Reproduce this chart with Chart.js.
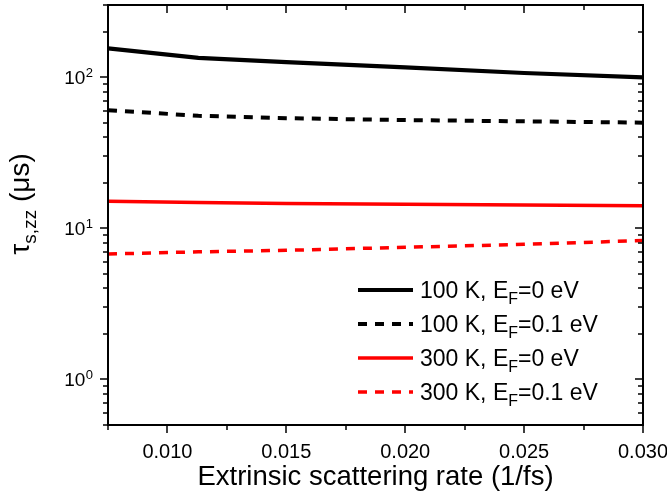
<!DOCTYPE html>
<html>
<head>
<meta charset="utf-8">
<script src="https://cdn.jsdelivr.net/npm/chart.js@4"></script>
<style>
  body { margin: 0; background: #fff; }
  #wrap { width: 667px; height: 503px; }
</style>
</head>
<body>
<div id="wrap"><canvas id="tauChart" width="667" height="503"></canvas></div>
<script>
const FONT = "'Liberation Sans', Arial, sans-serif"

// extrinsic scattering rate (1/fs)
const rates = [0.0075, 0.0113, 0.015, 0.02, 0.025, 0.03]

// tau_s,zz (us)
const t100K_EF0 = [155, 134, 125.5, 116, 106.5, 99.5]
const t100K_EF01 = [60.5, 55.5, 53.5, 52, 51, 50]
const t300K_EF0 = [15.1, 14.8, 14.6, 14.4, 14.25, 14.1]
const t300K_EF01 = [6.76, 6.99, 7.15, 7.49, 7.83, 8.3]

// legend text: main part, subscript, rest
const legendMain = ["100 K, E", "100 K, E", "300 K, E", "300 K, E"]
const legendSub = ["F", "F", "F", "F"]
const legendTail = ["=0 eV", "=0.1 eV", "=0 eV", "=0.1 eV"]

const xTicks = [0.0075, 0.01, 0.0125, 0.015, 0.0175, 0.02, 0.0225, 0.025, 0.0275, 0.03]
const yTicks = [0.5, 0.6, 0.7, 0.8, 0.9, 1, 2, 3, 4, 5, 6, 7, 8, 9, 10, 20, 30, 40, 50, 60, 70, 80, 90, 100, 200, 300]

const seriesValues = [t100K_EF0, t100K_EF01, t300K_EF0, t300K_EF01]
const seriesColors = ["#000000", "#000000", "#ff0000", "#ff0000"]
const seriesDash = [[], [9, 8], [], [9, 8]]
const seriesWidth = [4.2, 4, 3.5, 3.5]

const isMajorX = (v) => Math.abs(v / 0.005 - Math.round(v / 0.005)) < 1e-6
const isMajorY = (v) => Math.abs(Math.log10(v) - Math.round(Math.log10(v))) < 1e-6

const framePlugin = {
  id: "frame",
  afterDraw(chart) {
    const { ctx, chartArea: { left, right, top, bottom }, scales: { x, y } } = chart
    ctx.save()
    ctx.strokeStyle = "#000"
    ctx.lineWidth = 2
    ctx.strokeRect(left, top, right - left, bottom - top)
    ctx.lineWidth = 1.5
    ctx.beginPath()
    xTicks.forEach((v) => {
      const px = Math.round(x.getPixelForValue(v))
      const len = isMajorX(v) ? 8 : 5
      ctx.moveTo(px, bottom)
      ctx.lineTo(px, bottom + len)
      ctx.moveTo(px, top)
      ctx.lineTo(px, top + len)
    })
    yTicks.forEach((v) => {
      const py = Math.round(y.getPixelForValue(v))
      const len = isMajorY(v) ? 8 : 5
      ctx.moveTo(left - len, py)
      ctx.lineTo(left, py)
      ctx.moveTo(right - len, py)
      ctx.lineTo(right, py)
    })
    ctx.stroke()

    // y tick labels with superscript exponent
    ctx.fillStyle = "#000"
    ctx.textBaseline = "alphabetic"
    ctx.textAlign = "left"
    yTicks.filter(isMajorY).forEach((v) => {
      const py = y.getPixelForValue(v)
      const exp = String(Math.round(Math.log10(v)))
      ctx.font = "13px " + FONT
      const expW = ctx.measureText(exp).width
      ctx.font = "19px " + FONT
      const baseW = ctx.measureText("10").width
      const expX = left - 15 - expW
      ctx.fillText("10", expX - baseW - 0.5, py + 7)
      ctx.font = "13px " + FONT
      ctx.fillText(exp, expX, py)
    })

    // y axis title: tau_{s,zz} (us)
    const mainFont = "28px " + FONT
    const subFont = "19px " + FONT
    ctx.font = mainFont
    const w1 = ctx.measureText("\u03c4").width
    const w3 = ctx.measureText(" (\u03bcs)").width
    ctx.font = subFont
    const w2 = ctx.measureText("s,zz").width
    const total = w1 + w2 + w3
    ctx.translate(29, (top + bottom) / 2 - 11)
    ctx.rotate(-Math.PI / 2)
    let cx = -total / 2
    ctx.font = mainFont
    ctx.fillText("\u03c4", cx, 0)
    cx += w1
    ctx.font = subFont
    ctx.fillText("s,zz", cx, 7)
    cx += w2
    ctx.font = mainFont
    ctx.fillText(" (\u03bcs)", cx, 0)
    ctx.restore()
  },
}

const legendPlugin = {
  id: "innerLegend",
  afterDraw(chart) {
    const { ctx } = chart
    ctx.save()
    chart.data.datasets.forEach((ds, i) => {
      const rowY = 290 + i * 34
      ctx.strokeStyle = ds.borderColor
      ctx.lineWidth = ds.borderWidth
      ctx.setLineDash(ds.borderDash)
      ctx.beginPath()
      ctx.moveTo(358, rowY)
      ctx.lineTo(413, rowY)
      ctx.stroke()
      ctx.setLineDash([])
      ctx.fillStyle = "#000"
      ctx.textBaseline = "alphabetic"
      ctx.textAlign = "left"
      let tx = 420
      const base = rowY + 8
      ctx.font = "23px " + FONT
      ctx.fillText(legendMain[i], tx, base)
      tx += ctx.measureText(legendMain[i]).width
      ctx.font = "16px " + FONT
      ctx.fillText(legendSub[i], tx, base + 6)
      tx += ctx.measureText(legendSub[i]).width
      ctx.font = "23px " + FONT
      ctx.fillText(legendTail[i], tx, base)
    })
    ctx.restore()
  },
}

Chart.defaults.font.family = FONT
Chart.defaults.color = "#000"

new Chart(document.getElementById("tauChart").getContext("2d"), {
  type: "line",
  data: {
    datasets: seriesValues.map((vals, i) => ({
      label: legendMain[i] + legendSub[i] + legendTail[i],
      data: rates.map((r, j) => ({ x: r, y: vals[j] })),
      borderColor: seriesColors[i],
      borderWidth: seriesWidth[i],
      borderDash: seriesDash[i],
      pointRadius: 0,
      tension: 0,
      fill: false,
    })),
  },
  options: {
    responsive: false,
    animation: false,
    layout: { padding: { top: 5, right: 24, left: 0, bottom: 0 } },
    plugins: { legend: { display: false }, tooltip: { enabled: false } },
    scales: {
      x: {
        type: "linear",
        min: 0.0075,
        max: 0.03,
        afterBuildTicks: (scale) => {
          scale.ticks = xTicks.map((v) => ({ value: v }))
        },
        afterFit: (scale) => {
          scale.height = 78
          scale.paddingLeft = 0
          scale.paddingRight = 0
        },
        grid: { display: false, drawTicks: false },
        border: { display: false },
        ticks: {
          autoSkip: false,
          maxRotation: 0,
          padding: 15,
          font: { size: 20 },
          callback: (v) => (isMajorX(v) ? v.toFixed(3) : ""),
        },
        title: {
          display: true,
          text: "Extrinsic scattering rate (1/fs)",
          font: { size: 27.5 },
          padding: { top: 0, bottom: 9 },
        },
      },
      y: {
        type: "logarithmic",
        min: 0.5,
        max: 300,
        afterBuildTicks: (scale) => {
          scale.ticks = yTicks.map((v) => ({ value: v }))
        },
        afterFit: (scale) => {
          scale.width = 108
          scale.paddingTop = 0
          scale.paddingBottom = 0
        },
        grid: { display: false, drawTicks: false },
        border: { display: false },
        ticks: { display: false },
      },
    },
  },
  plugins: [framePlugin, legendPlugin],
})
</script>
</body>
</html>
